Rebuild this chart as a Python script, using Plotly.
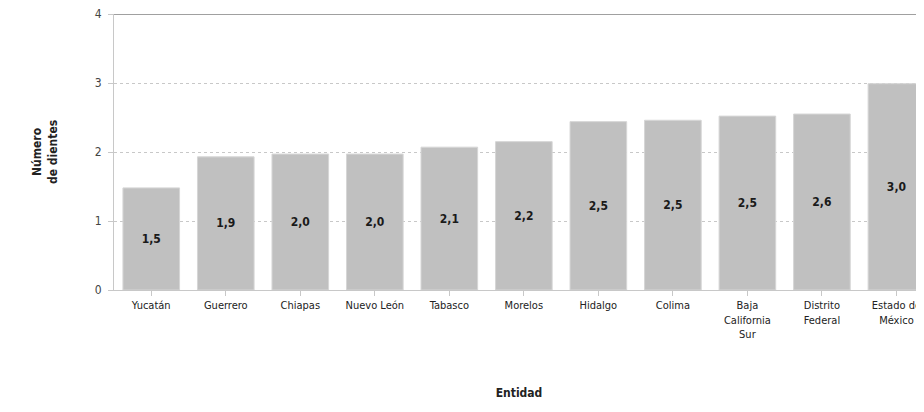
import plotly.graph_objects as go

categories = ["Yucatán", "Guerrero", "Chiapas", "Nuevo León", "Tabasco", "Morelos",
              "Hidalgo", "Colima", "Baja<br>California<br>Sur", "Distrito<br>Federal",
              "Estado de<br>México"]
values = [1.48, 1.93, 1.97, 1.97, 2.07, 2.15, 2.44, 2.46, 2.52, 2.55, 2.99]
value_labels = ["1,5", "1,9", "2,0", "2,0", "2,1", "2,2", "2,5", "2,5", "2,5", "2,6", "3,0"]
y_ticks = [0, 1, 2, 3, 4]

FONT = "DejaVu Sans Condensed, Liberation Sans Narrow, sans-serif"

fig = go.Figure(go.Bar(
    x=list(range(len(categories))),
    y=values,
    text=value_labels,
    texttemplate="<b>%{text}</b>",
    textposition="inside",
    insidetextanchor="middle",
    textfont=dict(family=FONT, size=12, color="#1a1a1a"),
    marker=dict(color="#c0c0c0", line=dict(color="#d6d6d6", width=1)),
    width=0.76,
    cliponaxis=True,
))

fig.update_layout(
    width=916, height=396,
    margin=dict(l=106, r=0, t=6, b=114),
    paper_bgcolor="white", plot_bgcolor="white",
    font=dict(family=FONT, size=11, color="#333333"),
    showlegend=False,
    uniformtext=dict(mode="show", minsize=12),
)
fig.update_xaxes(
    tickmode="array", tickvals=list(range(len(categories))), ticktext=categories,
    range=[-0.5, 10.37],
    showline=True, linecolor="#c8c8c8", linewidth=1,
    ticks="outside", tickson="boundaries", ticklen=5, tickcolor="#c8c8c8",
    showgrid=False, tickfont=dict(size=11, color="#222222"),
    ticklabeloverflow="allow",
    title=dict(text="<b>Entidad</b>", font=dict(size=12, color="#222222"), standoff=48),
)
fig.update_yaxes(
    range=[0, 4], tickvals=y_ticks, ticktext=[str(t) for t in y_ticks],
    showline=True, linecolor="#c8c8c8", linewidth=1,
    ticks="outside", ticklen=5, tickcolor="#c8c8c8",
    showgrid=True, gridcolor="#c8c8c8", griddash="dot", gridwidth=1,
    zeroline=False, tickfont=dict(size=12, color="#444444"),
    ticklabeloverflow="allow", ticklabelstandoff=4,
)
fig.add_shape(type="line", xref="paper", x0=0, x1=1, yref="y", y0=4, y1=4,
              line=dict(color="#a0a0a0", width=2))
fig.add_annotation(
    text="<b>Número<br>de dientes</b>", xref="paper", yref="paper",
    x=0, y=0.5, xshift=-69, xanchor="center", yanchor="middle",
    textangle=-90, showarrow=False,
    font=dict(size=12, color="#222222"), align="center",
)
fig.write_html("out.html")
